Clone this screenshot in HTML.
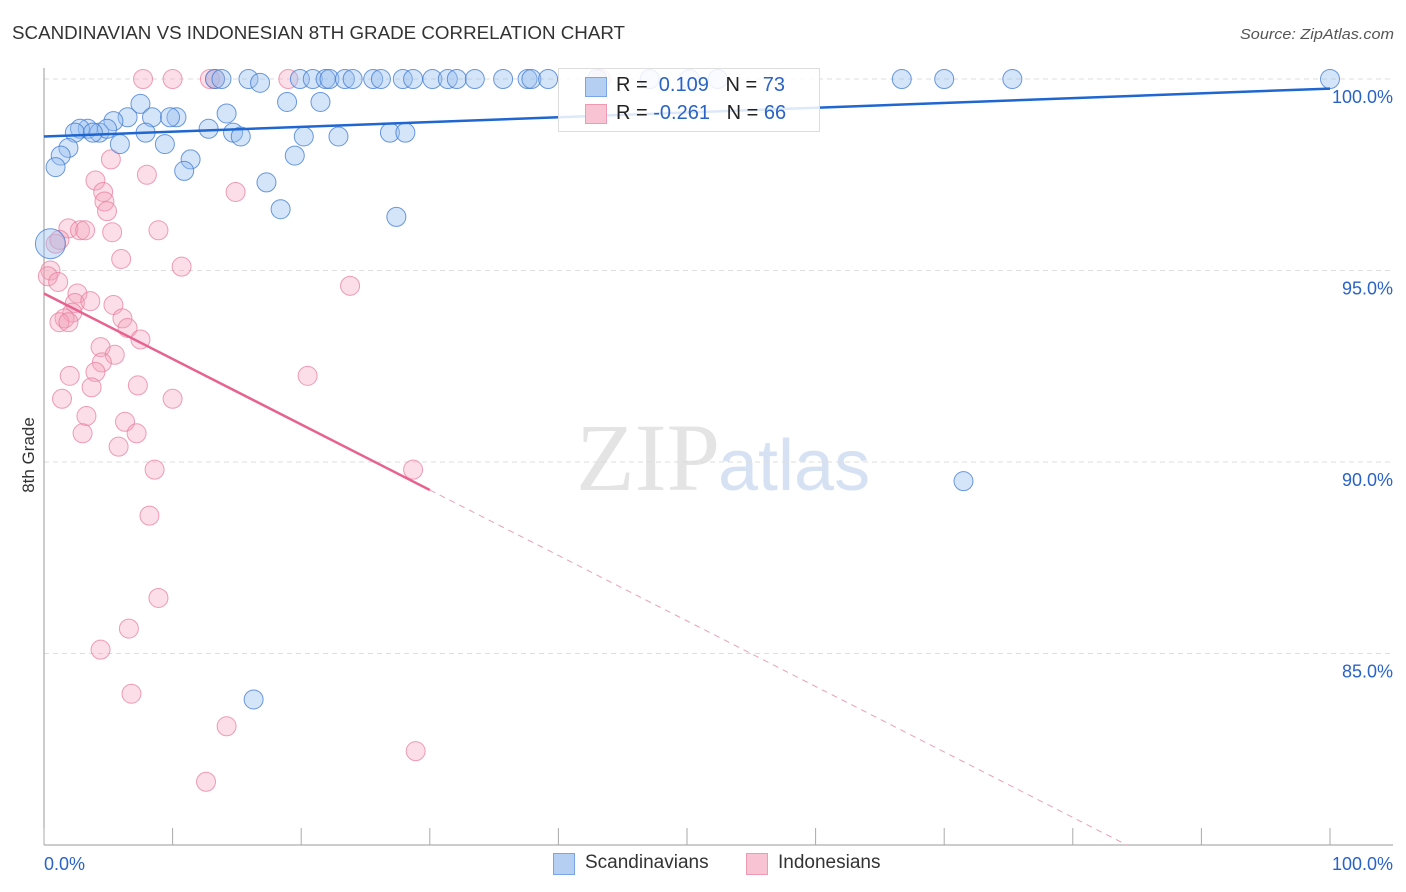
<!DOCTYPE html>
<html><head><meta charset="utf-8">
<style>
body{margin:0;background:#fff;font-family:"Liberation Sans",sans-serif;}
#wrap{position:relative;width:1406px;height:892px;overflow:hidden;}
</style></head>
<body>
<div id="wrap">
<svg id="chart" width="1406" height="892">
<text x="12" y="39" font-size="18" fill="#333" textLength="613" lengthAdjust="spacingAndGlyphs">SCANDINAVIAN VS INDONESIAN 8TH GRADE CORRELATION CHART</text>
<text x="1240" y="39" font-size="15" fill="#555" font-style="italic" textLength="154" lengthAdjust="spacingAndGlyphs">Source: ZipAtlas.com</text>
<text x="720" y="490" font-size="96" fill="#e4e4e4" text-anchor="end" font-family="Liberation Serif,serif">ZIP</text>
<text x="718" y="490" font-size="72" fill="#d6e2f4">atlas</text>
<text transform="translate(34,455) rotate(-90)" font-size="17" fill="#333" text-anchor="middle">8th Grade</text>
<g id="grid"></g><g id="pts"></g><g id="lines"></g>
</svg>
<div style="position:absolute;left:558px;top:68px;width:260px;height:62px;border:1px solid #ddd;background:rgba(255,255,255,0.85)">
 <div style="position:absolute;left:26px;top:8px;width:20px;height:18px;background:#b5cff3;border:1px solid #7aa5e6"></div>
 <div style="position:absolute;left:26px;top:35px;width:20px;height:18px;background:#f8c3d2;border:1px solid #ee9ab3"></div>
 <div style="position:absolute;left:57px;top:5px;font-size:20px;color:#222;white-space:pre">R =  <span style="color:#2a63c6">0.109</span>   N = <span style="color:#2a63c6">73</span></div>
 <div style="position:absolute;left:57px;top:33px;font-size:20px;color:#222;white-space:pre">R = <span style="color:#2a63c6">-0.261</span>   N = <span style="color:#2a63c6">66</span></div>
</div>
<div style="position:absolute;left:553px;top:853px;width:20px;height:20px;background:#b5cff3;border:1px solid #7aa5e6"></div>
<div style="position:absolute;left:585px;top:852px;font-size:19px;color:#333">Scandinavians</div>
<div style="position:absolute;left:746px;top:853px;width:20px;height:20px;background:#f8c3d2;border:1px solid #ee9ab3"></div>
<div style="position:absolute;left:778px;top:852px;font-size:19px;color:#333">Indonesians</div>
</div>
<script>
const yTicks=[100,95,90,85];
const yTickLabels=["100.0%","95.0%","90.0%","85.0%"];
const xTickVals=[0,10,20,30,40,50,60,70,80,90,100];
const blueX=[13.3,13.8,15.9,16.8,19.9,20.9,21.9,22.2,23.4,24.0,25.6,26.2,27.9,28.7,30.2,31.4,32.1,33.5,35.7,37.6,37.9,39.2,43.0,47.1,50.2,52.4,66.7,70.0,75.3,100,
7.5,18.9,21.5,10.3,14.2,6.5,8.4,9.8,5.4,3.4,2.8,4.3,2.4,4.9,3.8,7.9,12.8,14.7,15.3,20.2,22.9,26.9,28.1,5.9,9.4,1.9,1.3,0.9,11.4,10.9,19.5,17.3,18.4,27.4,71.5,16.3,0.5];
const blueY=[100,100,100,99.9,100,100,100,100,100,100,100,100,100,100,100,100,100,100,100,100,100,100,100,100,100,100,100,100,100,100,
99.35,99.4,99.4,99.0,99.1,99.0,99.0,99.0,98.9,98.7,98.7,98.6,98.6,98.7,98.6,98.6,98.7,98.6,98.5,98.5,98.5,98.6,98.6,98.3,98.3,98.2,98.0,97.7,97.9,97.6,98.0,97.3,96.6,96.4,89.5,83.8,95.7];
const pinkX=[7.7,10.0,12.9,13.3,19.0,43.3,5.2,8.0,14.9,4.0,4.6,4.7,4.9,5.3,8.9,1.9,2.8,3.2,6.0,10.7,23.8,0.9,1.2,0.5,0.3,1.1,2.6,2.4,3.6,5.4,2.2,1.6,6.1,1.2,1.9,6.5,7.5,4.4,5.5,4.5,4.0,2.0,7.3,3.7,20.5,10.0,1.4,3.3,6.3,7.2,3.0,5.8,8.6,28.7,8.2,8.9,6.6,4.4,6.8,14.2,28.9,12.6];
const pinkY=[100,100,100,100,100,100,97.9,97.5,97.05,97.35,97.05,96.8,96.55,96.0,96.05,96.1,96.05,96.05,95.3,95.1,94.6,95.7,95.8,95.0,94.85,94.7,94.4,94.15,94.2,94.1,93.9,93.75,93.75,93.65,93.65,93.5,93.2,93.0,92.8,92.6,92.35,92.25,92.0,91.95,92.25,91.65,91.65,91.2,91.05,90.75,90.75,90.4,89.8,89.8,88.6,86.45,85.65,85.1,83.95,83.1,82.45,81.65];
const blueTrend=[98.5,99.75];
const pinkTrend=[94.4,-0.171];
const NS="http://www.w3.org/2000/svg";
const X=v=>44+v*12.86, Y=v=>79+(100-v)*38.3;
function mk(tag,attrs,parent){const e=document.createElementNS(NS,tag);for(const k in attrs)e.setAttribute(k,attrs[k]);parent.appendChild(e);return e;}
const grid=document.getElementById('grid'),pts=document.getElementById('pts'),lines=document.getElementById('lines');
yTicks.forEach((t,i)=>{
 const l=mk('line',{x1:44,x2:1393,y1:Y(t),y2:Y(t),stroke:'#ddd','stroke-dasharray':'5,4'},grid);
 
 
 const tx=mk('text',{x:1393,y:Y(t)+24,'font-size':18,fill:'#2a63c6','text-anchor':'end'},grid);
 tx.textContent=yTickLabels[i];
 
 
});
const ax=mk('line',{x1:44,x2:44,y1:68,y2:845,stroke:'#999'},grid);


const bx=mk('line',{x1:44,x2:1393,y1:845,y2:845,stroke:'#999'},grid);


xTickVals.forEach(v=>{const t=mk('line',{x1:X(v),x2:X(v),y1:828,y2:845,stroke:'#aaa'},grid);
 
 });
[[0,'0.0%','start',44],[100,'100.0%','end',1393]].forEach(a=>{const t=mk('text',{x:a[3],y:870,'font-size':18,fill:'#2a63c6','text-anchor':a[2]},grid);t.textContent=a[1];
 
 });
pinkX.forEach((v,i)=>{const c=mk('circle',{cx:X(v),cy:Y(pinkY[i]),r:9.5,fill:'rgba(244,160,186,0.35)',stroke:'rgba(232,120,155,0.7)','stroke-width':1},pts);
 
 });
blueX.forEach((v,i)=>{const c=mk('circle',{cx:X(v),cy:Y(blueY[i]),r:(i==blueX.length-1?15:9.5),fill:'rgba(150,190,240,0.4)',stroke:'rgba(60,120,210,0.75)','stroke-width':1},pts);
 
 });
const bl=mk('line',{x1:X(0),y1:Y(blueTrend[0]),x2:X(100),y2:Y(blueTrend[1]),stroke:'#1f66d1','stroke-width':2.5},lines);


const pEnd=30, pDashEnd=(80-pinkTrend[0])/pinkTrend[1];
const pl=mk('line',{x1:X(0),y1:Y(pinkTrend[0]),x2:X(pEnd),y2:Y(pinkTrend[0]+pinkTrend[1]*pEnd),stroke:'#e8628f','stroke-width':2.5},lines);


const pd=mk('line',{x1:X(pEnd),y1:Y(pinkTrend[0]+pinkTrend[1]*pEnd),x2:X(pDashEnd),y2:Y(80),stroke:'#e8a0b8','stroke-width':1,'stroke-dasharray':'6,5'},lines);


</script>
</body></html>
